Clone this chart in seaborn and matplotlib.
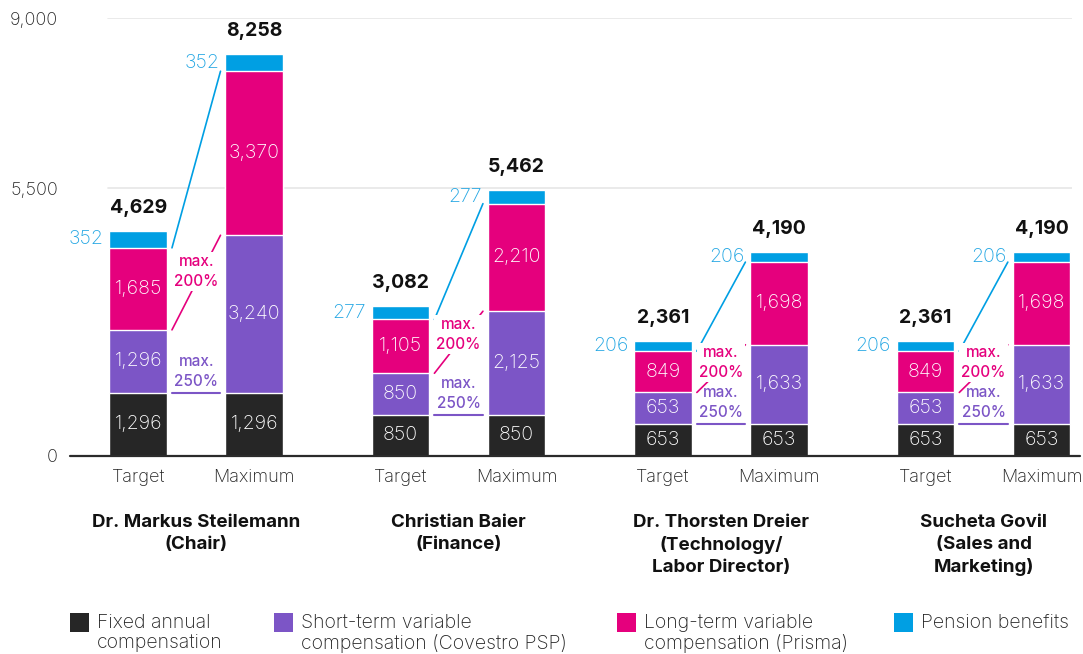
import matplotlib
matplotlib.use("Agg")
import matplotlib.pyplot as plt
from matplotlib.patches import Rectangle
import pandas as pd
import seaborn as sns

# --- data (EUR thousand) ---------------------------------------------------
members = [
    "Dr. Markus Steilemann\n(Chair)",
    "Christian Baier\n(Finance)",
    "Dr. Thorsten Dreier\n(Technology/\nLabor Director)",
    "Sucheta Govil\n(Sales and\nMarketing)",
]
scenarios = ["Target", "Maximum"]

fixed_target = [1296, 850, 653, 653]
sti_target = [1296, 850, 653, 653]
lti_target = [1685, 1105, 849, 849]
pension_target = [352, 277, 206, 206]

fixed_max = [1296, 850, 653, 653]
sti_max = [3240, 2125, 1633, 1633]
lti_max = [3370, 2210, 1698, 1698]
pension_max = [352, 277, 206, 206]

sti_cap = "max.\n250%"
lti_cap = "max.\n200%"

component_labels = [
    "Fixed annual\ncompensation",
    "Short-term variable\ncompensation (Covestro PSP)",
    "Long-term variable\ncompensation (Prisma)",
    "Pension benefits",
]
y_ticks = [0, 5500, 9000]

# --- styling ----------------------------------------------------------------
C_FIXED = "#262626"
C_STI = "#7C55C6"
C_LTI = "#E5007D"
C_PENSION = "#009FE3"
C_PENSION_TXT = "#22A6E3"
component_colors = [C_FIXED, C_STI, C_LTI, C_PENSION]

W, H, DPI = 1083, 654, 100
PX = 72 / DPI  # points per pixel

sns.set_theme(style="white")
plt.rcParams["font.family"] = ["Inter", "DejaVu Sans"]
plt.rcParams["text.color"] = "#1a1a1a"

rows = []
for i, m in enumerate(members):
    vals = {
        "Target": (fixed_target[i], sti_target[i], lti_target[i], pension_target[i]),
        "Maximum": (fixed_max[i], sti_max[i], lti_max[i], pension_max[i]),
    }
    for s in scenarios:
        f, st, lt, p = vals[s]
        rows.append(dict(member=m, scenario=s, fixed=f, sti=st, lti=lt, pension=p))
df = pd.DataFrame(rows)
df["c_fixed"] = df["fixed"]
df["c_sti"] = df["c_fixed"] + df["sti"]
df["c_lti"] = df["c_sti"] + df["lti"]
df["c_pension"] = df["c_lti"] + df["pension"]

fig = plt.figure(figsize=(W / DPI, H / DPI), dpi=DPI)
ax_left, ax_right, ax_top, ax_bottom = 70, 1072, 18, 456
ax = fig.add_axes([ax_left / W, 1 - ax_bottom / H,
                   (ax_right - ax_left) / W, (ax_bottom - ax_top) / H])

# Stacked bars drawn as overlapping cumulative layers, tallest first
layers = [("c_pension", C_PENSION), ("c_lti", C_LTI),
          ("c_sti", C_STI), ("c_fixed", C_FIXED)]
for col, color in layers:
    sns.barplot(data=df, x="member", y=col, hue="scenario",
                order=members, hue_order=scenarios,
                palette={s: color for s in scenarios}, saturation=1,
                width=0.884, gap=0.5045, dodge=True, legend=False,
                edgecolor="white", linewidth=1.0, errorbar=None, ax=ax)

cont_t, cont_m = ax.containers[0], ax.containers[1]

x0_data = -0.481
x1_data = 3.337
ax.set_xlim(x0_data, x1_data)
ax.set_ylim(0, 9000)
px_per_unit = (ax_right - ax_left) / (x1_data - x0_data)
gap = 5 / px_per_unit

for sp in ax.spines.values():
    sp.set_visible(False)
ax.set_xlabel("")
ax.set_ylabel("")

# gridlines and baseline
for v in y_ticks[1:]:
    ax.axhline(v, xmin=(108 - ax_left) / (ax_right - ax_left), xmax=1.0,
               color="#e6e6e6", lw=1.2, zorder=0)
ax.axhline(0, xmin=0, xmax=1.008, color="#2b2b2b", lw=1.6, clip_on=False, zorder=5)

ax.set_yticks(y_ticks, labels=[f"{v:,}" for v in y_ticks])
ax.tick_params(axis="y", length=0, pad=12 * PX, labelsize=13, labelcolor="#222222")
for t in ax.get_yticklabels():
    t.set_fontweight("light")
    t.set_verticalalignment("center_baseline")

xt_list, xm_list = [], []
for bt, bm in zip(cont_t, cont_m):
    xt_list.append(bt.get_x() + bt.get_width() / 2)
    xm_list.append(bm.get_x() + bm.get_width() / 2)
bar_w = cont_t[0].get_width()

ticks = []
tick_labels = []
for xt, xm in zip(xt_list, xm_list):
    ticks += [xt, xm]
    tick_labels += scenarios
ax.set_xticks(ticks, labels=tick_labels)
ax.tick_params(axis="x", length=0, pad=9.5, labelsize=13, labelcolor="#222222")
for t in ax.get_xticklabels():
    t.set_fontweight("light")

seg_font = dict(fontsize=14, fontweight="light", ha="center", va="center")

for i, m in enumerate(members):
    rt = df[(df.member == m) & (df.scenario == "Target")].iloc[0]
    rm = df[(df.member == m) & (df.scenario == "Maximum")].iloc[0]
    xt, xm = xt_list[i], xm_list[i]
    for r, x in ((rt, xt), (rm, xm)):
        base = 0
        for key in ("fixed", "sti", "lti"):
            v = r[key]
            ax.text(x, base + v / 2, f"{v:,}", color="white", zorder=6, **seg_font)
            base += v
        p = r["pension"]
        ax.text(x - bar_w / 2 - gap * 1.2, base + p / 2, f"{p:,}",
                color=C_PENSION_TXT, fontsize=14, fontweight="light",
                ha="right", va="center", zorder=6)
        total = base + p
        ax.annotate(f"{total:,}", xy=(x, total), xytext=(0, 23 * PX),
                    textcoords="offset points", ha="center", va="center",
                    fontsize=14, fontweight="bold", color="#111111",
                    annotation_clip=False)

    xr = xt + bar_w / 2 + gap
    xl = xm - bar_w / 2 - gap
    xmid = (xr + xl) / 2

    # pension connector
    ax.plot([xr, xl], [rt["c_lti"], rm["c_lti"]], color=C_PENSION, lw=1.2, zorder=3)

    # long-term variable connector with cap note
    ax.plot([xr, xl], [rt["c_sti"], rm["c_sti"]], color=C_LTI, lw=1.2, zorder=3)
    y_note = rt["c_sti"] + 0.62 * (rm["c_sti"] - rt["c_sti"])
    ax.text(xmid, y_note, lti_cap, color=C_LTI, fontsize=11, fontweight="medium",
            ha="center", va="center", linespacing=1.4, zorder=4,
            bbox=dict(facecolor="white", edgecolor="none", pad=1.5))

    # short-term variable baseline with cap note
    ax.plot([xr, xl], [rt["c_fixed"], rm["c_fixed"]], color=C_STI, lw=1.5, zorder=3)
    ax.annotate(sti_cap, xy=(xmid, rt["c_fixed"]), xytext=(0, 4 * PX),
                textcoords="offset points", color=C_STI, fontsize=11,
                fontweight="medium", ha="center", va="bottom", linespacing=1.4)

    # member name under each pair
    ax.annotate(m, xy=((xt + xm) / 2, 0), xycoords=("data", "axes fraction"),
                xytext=(0, -58 * PX), textcoords="offset points",
                ha="center", va="top", fontsize=13.5, fontweight="bold",
                linespacing=1.36, color="#111111", annotation_clip=False)

# legend
legend_x = [70, 274, 617, 894]
sq = 19
for x, label, color in zip(legend_x, component_labels, component_colors):
    fig.add_artist(Rectangle((x / W, 1 - (613 + sq) / H), sq / W, sq / H,
                             transform=fig.transFigure, facecolor=color,
                             edgecolor="none"))
    fig.text((x + 27) / W, 1 - 614 / H, label, ha="left", va="top",
             fontsize=14, fontweight="light", linespacing=1.14, color="#222222")

fig.savefig("out.png", dpi=DPI, facecolor="white")
